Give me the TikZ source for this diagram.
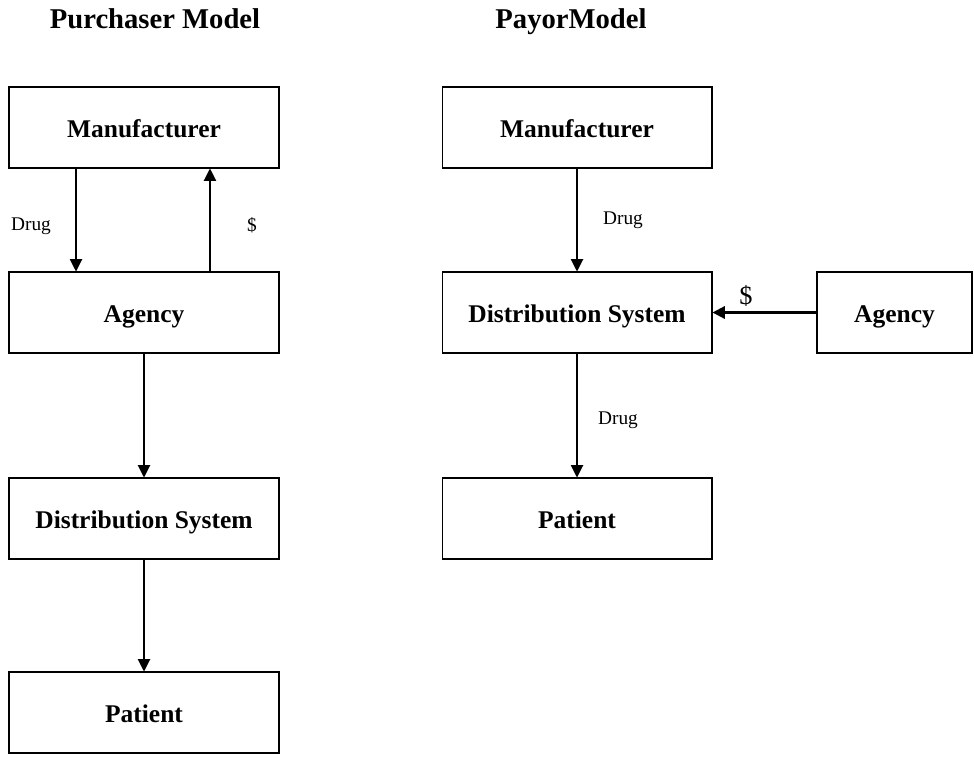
\documentclass[tikz,border=0pt]{standalone}
\usepackage{fontspec}
\setmainfont{Liberation Serif}
\usetikzlibrary{arrows.meta}

\tikzset{
  box/.style={draw, line width=0.6pt, minimum width=5.4cm, minimum height=1.62cm,
    text height=2.8ex, text depth=0.2ex, font=\fontsize{14.5}{16}\selectfont\bfseries},
  title/.style={anchor=base, font=\fontsize{16.3}{18}\selectfont\bfseries},
  lbl/.style={font=\fontsize{11}{12}\selectfont},
  arr/.style={-{Triangle[length=7pt, width=7pt]}, line width=0.6pt}
}

\begin{document}
\begin{tikzpicture}[x=0.02cm, y=-0.02cm]
      \useasboundingbox (0,0) rectangle (974,761);
      % titles
      \node[title] (tL) at (155,28) {Purchaser Model};
      \node[title] (tR) at (571,28) {PayorModel};
      % purchaser model
      \node[box] (mfrL) at (144,127.5) {Manufacturer};
      \node[box] (agL) at (144,312.5) {Agency};
      \node[box] (dsL) at (144,518.5) {Distribution System};
      \node[box] (patL) at (144,712.5) {Patient};
      \draw[arr] ([xshift=-1.36cm]mfrL.south) -- ([xshift=-1.36cm]agL.north);
      \draw[arr] ([xshift=1.32cm]agL.north) -- ([xshift=1.32cm]mfrL.south);
      \node[lbl] (drugL) at (31,226) {Drug};
      \node[lbl] (dolL) at (252,225) {\$};
      \draw[arr] (agL) -- (dsL);
      \draw[arr] (dsL) -- (patL);
      % payor model
      \node[box] (mfrR) at (577,127.5) {Manufacturer};
      \node[box] (dsR) at (577,312.5) {Distribution System};
      \node[box, minimum width=3.1cm] (agR) at (894.5,312.5) {Agency};
      \node[box] (patR) at (577,518.5) {Patient};
      \draw[arr] (mfrR) -- (dsR);
      \node[lbl] (drugR1) at (623,220) {Drug};
      \draw[arr, line width=1.2pt] (agR) -- (dsR);
      \node[font=\fontsize{15}{16}\selectfont] (dolR) at (746,296) {\$};
      \draw[arr] (dsR) -- (patR);
      \node[lbl] (drugR2) at (618,420) {Drug};
    \end{tikzpicture}
\end{document}
